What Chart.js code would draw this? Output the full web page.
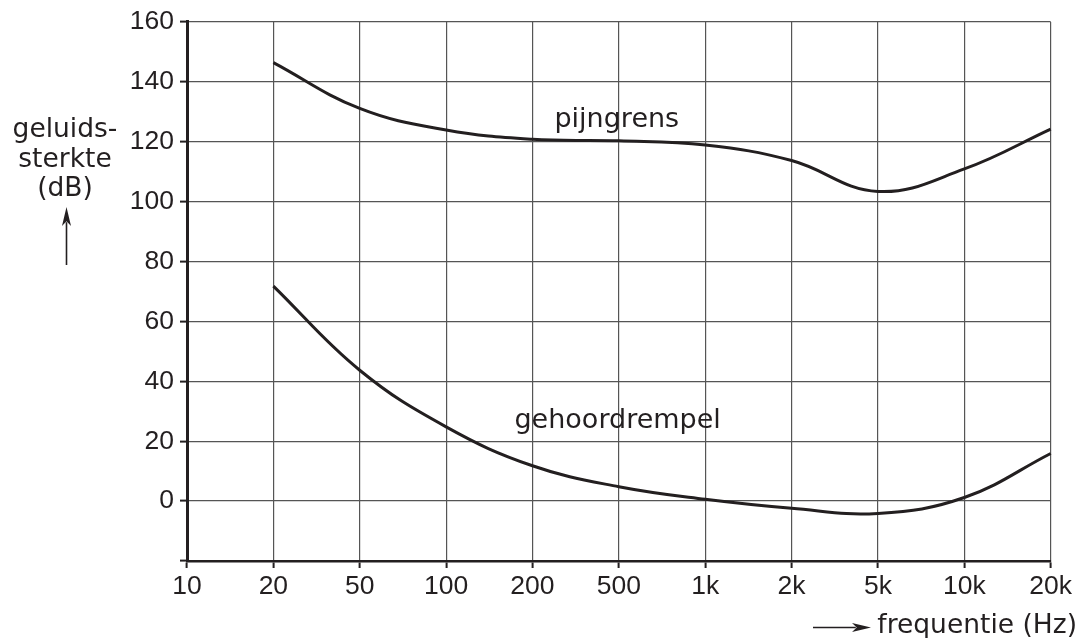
<!DOCTYPE html>
<html>
<head>
<meta charset="utf-8">
<script src="https://cdn.jsdelivr.net/npm/chart.js@4.4.1/dist/chart.umd.min.js"></script>
<style>
  html, body { margin: 0; padding: 0; background: #fff; }
  #wrap { width: 1087px; height: 638px; position: relative; }
</style>
</head>
<body>
<div id="wrap"><canvas id="chart"></canvas></div>
<script>
// frequencies along the x axis (equally spaced)
const frequencies = ["10", "20", "50", "100", "200", "500", "1k", "2k", "5k", "10k", "20k"]
// geluidssterkte in dB
const pijngrens = [null, 146.4, 131.1, 123.9, 120.8, 120.3, 118.9, 113.7, 103.4, 110.9, 124.2]
const gehoordrempel = [null, 71.8, 43.7, 24.8, 11.8, 4.8, 0.6, -2.4, -4.1, 1.2, 15.9]
const yTicks = [-20, 0, 20, 40, 60, 80, 100, 120, 140, 160]

const ink = "#231f20"
const gridColor = "#555"
const tickFont = { family: "'Liberation Sans', Arial, sans-serif", size: 26.5 }
const labelFont = "27px 'DejaVu Sans', sans-serif"
const titleFont = "26.5px 'DejaVu Sans', sans-serif"

function arrow(ctx, x1, y1, x2, y2) {
    const ang = Math.atan2(y2 - y1, x2 - x1)
    const len = 19, half = 4.5
    ctx.beginPath()
    ctx.moveTo(x1, y1)
    ctx.lineTo(x2 - Math.cos(ang) * len * 0.8, y2 - Math.sin(ang) * len * 0.8)
    ctx.lineWidth = 1.6
    ctx.stroke()
    ctx.beginPath()
    ctx.moveTo(x2, y2)
    ctx.lineTo(x2 - Math.cos(ang) * len - Math.sin(ang) * half, y2 - Math.sin(ang) * len + Math.cos(ang) * half)
    ctx.lineTo(x2 - Math.cos(ang) * len * 0.75, y2 - Math.sin(ang) * len * 0.75)
    ctx.lineTo(x2 - Math.cos(ang) * len + Math.sin(ang) * half, y2 - Math.sin(ang) * len - Math.cos(ang) * half)
    ctx.closePath()
    ctx.fill()
}

const annotations = {
    id: "annotations",
    afterDraw(chart) {
        const ctx = chart.ctx
        const x = chart.scales.x
        const y = chart.scales.y
        ctx.save()
        ctx.fillStyle = ink
        ctx.strokeStyle = ink
        ctx.textBaseline = "alphabetic"

        // curve labels
        ctx.font = labelFont
        ctx.textAlign = "left"
        ctx.fillText("pijngrens", x.getPixelForValue(4) + 22, y.getPixelForValue(125))
        ctx.fillText("gehoordrempel", x.getPixelForValue(4) - 18, y.getPixelForValue(24.3))

        // y axis title
        ctx.font = titleFont
        ctx.textAlign = "center"
        ctx.fillText("geluids-", 65, 137)
        ctx.fillText("sterkte", 65, 166.5)
        ctx.fillText("(dB)", 65, 196)
        arrow(ctx, 66.5, 265, 66.5, 207)

        // x axis title
        ctx.textAlign = "right"
        ctx.fillText("frequentie (Hz)", chart.width - 10, 633)
        arrow(ctx, 813, 627.5, 871, 627.5)
        ctx.restore()
    }
}

new Chart(document.getElementById("chart").getContext("2d"), {
    type: "line",
    data: {
        labels: frequencies,
        datasets: [
            {
                label: "pijngrens",
                data: pijngrens,
                borderColor: ink,
                borderWidth: 3,
                pointRadius: 0,
                tension: 0.4,
                fill: false,
            },
            {
                label: "gehoordrempel",
                data: gehoordrempel,
                borderColor: ink,
                borderWidth: 3,
                pointRadius: 0,
                tension: 0.4,
                fill: false,
            },
        ],
    },
    options: {
        responsive: true,
        maintainAspectRatio: false,
        animation: false,
        layout: { padding: { top: 20, right: 36.3, left: 0, bottom: 0 } },
        plugins: {
            legend: { display: false },
            tooltip: { enabled: false },
        },
        scales: {
            x: {
                type: "category",
                offset: false,
                grid: {
                    color: gridColor,
                    lineWidth: 1.2,
                    tickColor: ink,
                    tickWidth: 2,
                    tickLength: 7,
                },
                border: { color: ink, width: 2.5 },
                ticks: {
                    color: ink,
                    font: tickFont,
                    padding: 3,
                    maxRotation: 0,
                    autoSkip: false,
                },
                afterFit(scale) { scale.height = 77 },
            },
            y: {
                min: -20,
                max: 160,
                afterBuildTicks(scale) { scale.ticks = yTicks.map(v => ({ value: v })) },
                grid: {
                    color: gridColor,
                    lineWidth: 1.2,
                    tickColor: ink,
                    tickWidth: 2,
                    tickLength: 7,
                },
                border: { color: ink, width: 3 },
                ticks: {
                    color: ink,
                    font: tickFont,
                    padding: 6,
                    callback: v => (v === -20 ? "" : v),
                },
                afterFit(scale) { scale.width = 187 },
            },
        },
    },
    plugins: [annotations],
})
</script>
</body>
</html>
